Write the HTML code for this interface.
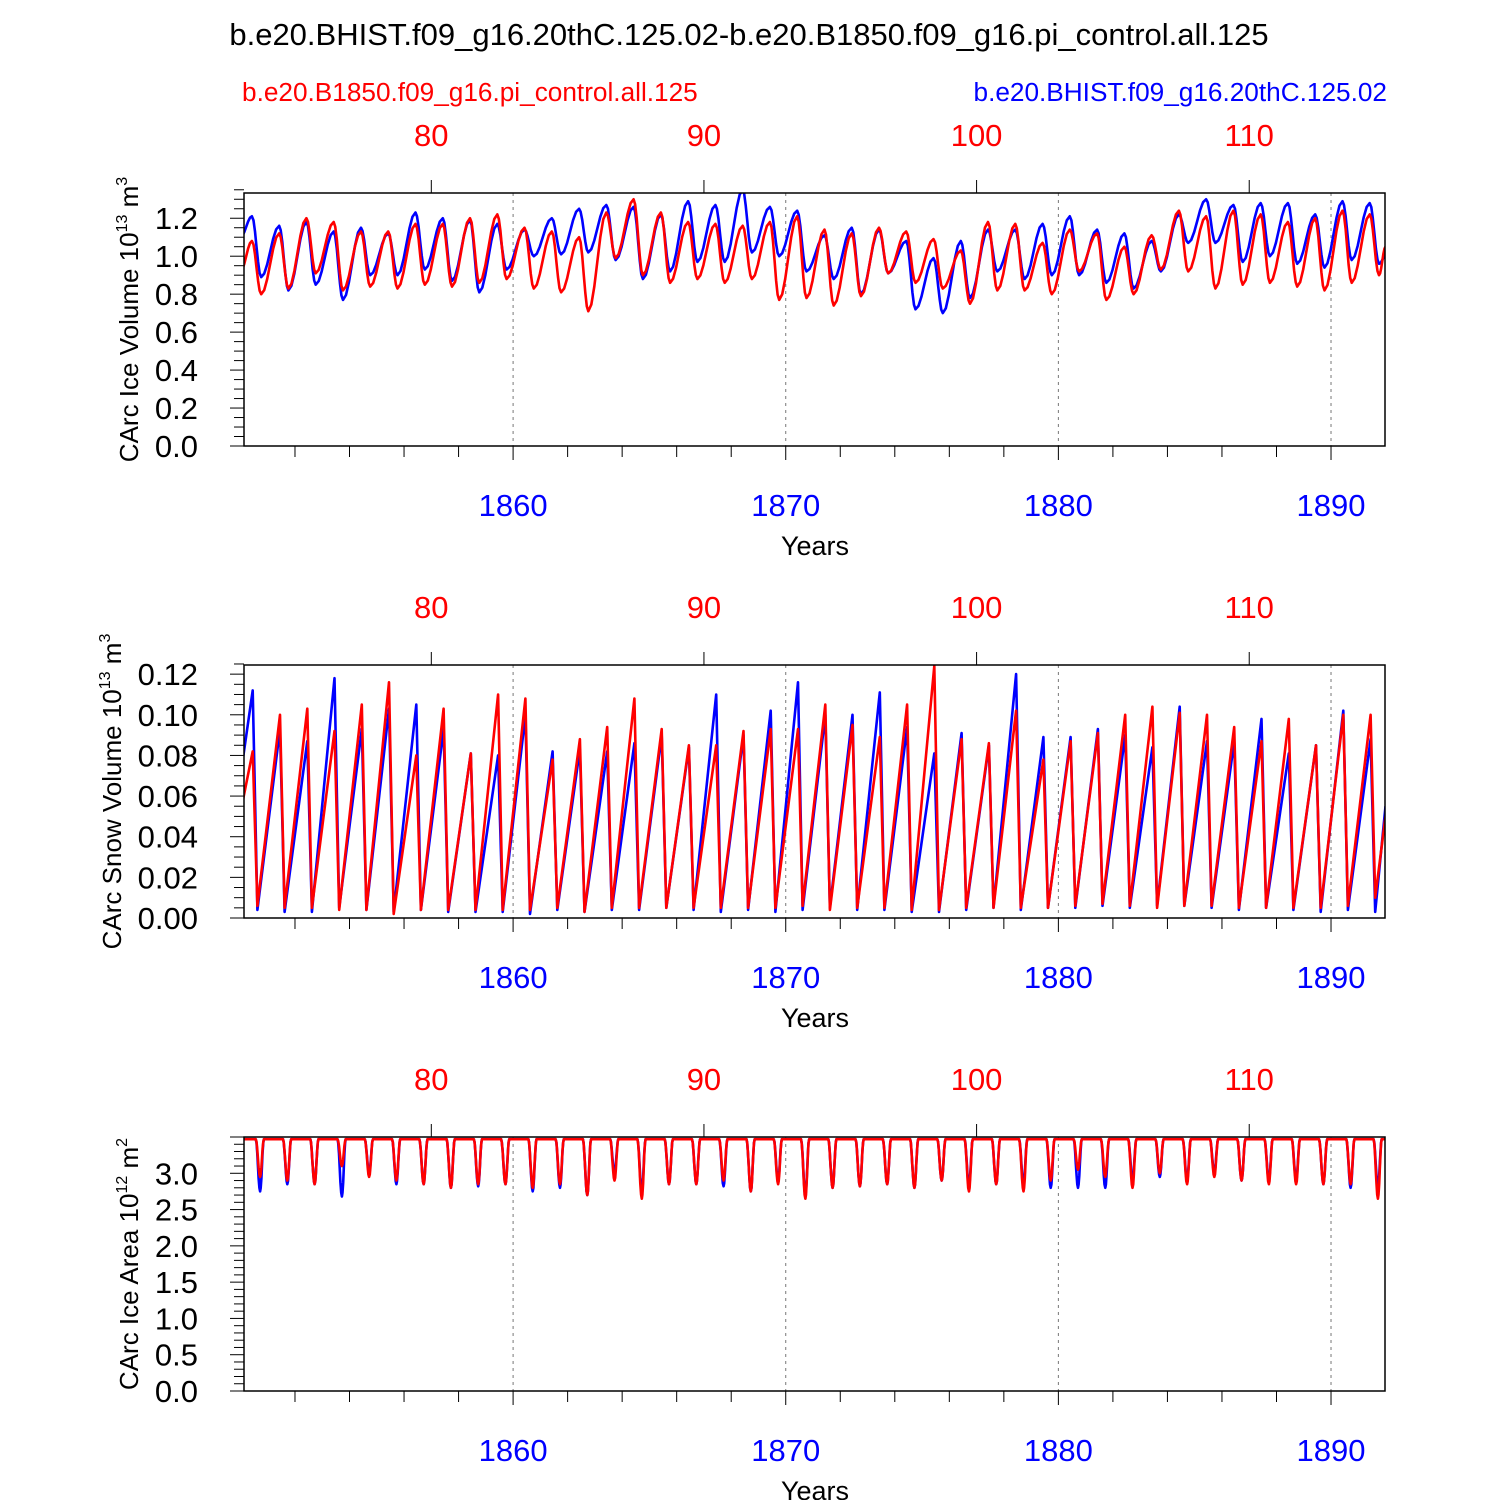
<!DOCTYPE html>
<html><head><meta charset="utf-8"><style>
html,body{margin:0;padding:0;background:#fff;}
svg{display:block;font-family:"Liberation Sans",sans-serif;}
</style></head><body>
<svg id="chart" width="1500" height="1500" viewBox="0 0 1500 1500" xmlns="http://www.w3.org/2000/svg">
<text x="749" y="45" font-size="31" text-anchor="middle">b.e20.BHIST.f09_g16.20thC.125.02-b.e20.B1850.f09_g16.pi_control.all.125</text>
<text x="242" y="101" font-size="26.2" fill="#ff0000">b.e20.B1850.f09_g16.pi_control.all.125</text>
<text x="1387" y="101" font-size="26.2" fill="#0000ff" text-anchor="end">b.e20.BHIST.f09_g16.20thC.125.02</text>
<g id="panels"></g>
</svg>
<script>
// Per-year peak / trough values (years 1850..1891)
const years = [];
for (let y = 1850; y <= 1891; y++) years.push(y);

const iceVolBluePeak = [1.21,1.16,1.18,1.13,1.15,1.12,1.23,1.20,1.19,1.17,1.14,1.20,1.25,1.27,1.26,1.22,1.29,1.27,1.35,1.26,1.24,1.11,1.15,1.14,1.08,0.99,1.08,1.14,1.14,1.17,1.21,1.14,1.12,1.08,1.22,1.30,1.27,1.28,1.28,1.22,1.29,1.28];
const iceVolBlueLow  = [0.89,0.82,0.85,0.77,0.90,0.90,0.93,0.87,0.81,0.93,1.00,1.01,1.02,0.98,0.88,0.92,0.97,0.97,1.02,1.00,0.92,0.88,0.80,0.91,0.72,0.70,0.78,0.92,0.88,0.90,0.90,0.86,0.83,0.92,1.07,1.07,0.97,1.00,0.96,0.94,0.98,0.96];
const iceVolRedPeak  = [1.08,1.12,1.20,1.18,1.13,1.13,1.17,1.17,1.20,1.22,1.15,1.13,1.10,1.23,1.30,1.23,1.18,1.17,1.16,1.18,1.21,1.14,1.12,1.15,1.13,1.09,1.03,1.18,1.17,1.07,1.14,1.12,1.05,1.11,1.24,1.21,1.24,1.22,1.18,1.20,1.24,1.22];
const iceVolRedLow   = [0.80,0.83,0.91,0.82,0.84,0.83,0.85,0.84,0.86,0.88,0.83,0.81,0.71,0.99,0.90,0.86,0.88,0.86,0.88,0.77,0.78,0.74,0.79,0.91,0.86,0.83,0.75,0.82,0.82,0.80,0.92,0.77,0.80,0.93,0.92,0.83,0.85,0.86,0.84,0.82,0.86,0.90];

const snowBluePeak = [.112,.093,.087,.118,.093,.103,.105,.093,.081,.080,.100,.082,.083,.082,.086,.090,.084,.110,.090,.102,.116,.100,.100,.111,.094,.081,.091,.085,.120,.089,.089,.093,.090,.084,.104,.087,.087,.098,.081,.085,.102,.088];
const snowRedPeak  = [.082,.100,.103,.092,.105,.116,.080,.103,.081,.110,.108,.078,.088,.094,.108,.093,.085,.085,.092,.093,.093,.105,.095,.089,.105,.124,.088,.086,.102,.078,.087,.091,.100,.104,.101,.100,.094,.087,.098,.085,.100,.100];
const snowBlueLow = [.004,.003,.003,.005,.004,.003,.004,.003,.003,.003,.002,.004,.003,.004,.004,.005,.004,.003,.004,.003,.004,.005,.004,.004,.003,.003,.004,.005,.004,.005,.005,.006,.005,.006,.006,.005,.004,.005,.004,.003,.004,.003];
const snowRedLow  = [.006,.005,.005,.004,.004,.002,.004,.004,.004,.004,.004,.005,.003,.005,.005,.005,.005,.005,.005,.005,.006,.004,.005,.005,.004,.004,.005,.005,.005,.005,.006,.007,.006,.005,.006,.006,.005,.005,.005,.005,.006,.010];

const areaBlueLow = [2.75,2.85,2.85,2.68,3.00,2.85,2.85,2.80,2.82,2.85,2.75,2.80,2.70,3.00,2.75,2.85,2.85,2.82,2.75,2.90,2.70,2.80,2.82,2.85,2.80,2.90,2.82,2.85,2.85,2.80,2.80,2.80,2.90,2.95,2.90,3.00,2.90,2.90,2.90,2.85,2.80,2.80];
const areaRedLow  = [2.95,2.90,2.85,3.10,2.95,2.90,2.85,2.80,2.85,2.85,2.80,2.85,2.70,2.90,2.65,2.85,2.85,2.90,2.75,2.85,2.65,2.80,2.82,2.85,2.80,2.90,2.75,2.85,2.75,2.90,3.05,2.95,2.80,3.00,2.85,2.95,2.90,2.85,2.85,2.85,2.85,2.65];
const areaMax = 3.47;

const bottomTicks = [1860,1870,1880,1890];
const topTicks = [80,90,100,110];
const topOffset = 1777;

const X0=244, X1=1385, T0=1850.13, T1=1891.98;
const xs = t => X0 + (t - T0) / (T1 - T0) * (X1 - X0);
const NS="http://www.w3.org/2000/svg";
const root=document.getElementById('panels');
function mk(tag, attrs, parent){const e=document.createElementNS(NS,tag);for(const k in attrs)e.setAttribute(k,attrs[k]);(parent||root).appendChild(e);return e;}

function seriesIce(peak, low, start, end){
  const pts=[[1850.0,start]];
  years.forEach((y,i)=>{pts.push([y+0.42,peak[i]]);pts.push([y+0.76,low[i]]);});
  pts.push([1892.0,end]);return pts;
}
function seriesSnow(peak, low, start, end){
  const pts=[[1850.0,start]];
  years.forEach((y,i)=>{pts.push([y+0.45,peak[i]]);pts.push([y+0.62,low[i]]);});
  pts.push([1892.0,end]);return pts;
}
function seriesArea(low){
  const pts=[[1850.0,areaMax]];
  years.forEach((y,i)=>{pts.push([y+0.56,areaMax]);pts.push([y+0.72,low[i]]);pts.push([y+0.86,areaMax]);});
  pts.push([1892.0,areaMax]);return pts;
}
function smooth(pts, ease){
  if(!ease) return pts;
  const out=[pts[0]];
  for(let i=1;i<pts.length;i++){
    const a=pts[i-1], b=pts[i];
    for(let k=1;k<=6;k++){const f=k/6;const e=(1-Math.cos(Math.PI*f))/2;out.push([a[0]+(b[0]-a[0])*f,a[1]+(b[1]-a[1])*e]);}
  }
  return out;
}

const panels=[
  {name:'ice-volume',top:193,bot:446,ymax:1.333,major:0.2,minor:0.05,dec:1,title:'CArc Ice Volume 10',sup:'13',unit:' m',usup:'3',tx:138,ease:true,
   series:[['blue',seriesIce(iceVolBluePeak,iceVolBlueLow,1.10,1.00),'#0000ff'],['red',seriesIce(iceVolRedPeak,iceVolRedLow,0.92,1.05),'#ff0000']]},
  {name:'snow-volume',top:665,bot:918,ymax:0.1245,major:0.02,minor:0.005,dec:2,title:'CArc Snow Volume 10',sup:'13',unit:' m',usup:'3',tx:121,ease:false,
   series:[['blue',seriesSnow(snowBluePeak,snowBlueLow,0.070,0.055),'#0000ff'],['red',seriesSnow(snowRedPeak,snowRedLow,0.052,0.050),'#ff0000']]},
  {name:'ice-area',top:1137,bot:1391,ymax:3.5,major:0.5,minor:0.1,dec:1,title:'CArc Ice Area 10',sup:'12',unit:' m',usup:'2',tx:138,ease:true,skipTop:true,
   series:[['blue',seriesArea(areaBlueLow),'#0000ff'],['red',seriesArea(areaRedLow),'#ff0000']]}
];

panels.forEach((p,pi)=>{
  const g=mk('g',{});
  
  
  const ys=v=>p.bot-v/p.ymax*(p.bot-p.top);
  const cid='clip'+pi;
  const cp=mk('clipPath',{id:cid},g);mk('rect',{x:X0,y:p.top,width:X1-X0,height:p.bot-p.top},cp);
  bottomTicks.forEach(t=>{const l=mk('line',{x1:xs(t),x2:xs(t),y1:p.top,y2:p.bot,stroke:'#777','stroke-width':1,'stroke-dasharray':'3,4'},g);
    });
  p.series.forEach(s=>{
    const pts=smooth(s[1],p.ease);
    const d=pts.map((pt,i)=>(i?'L':'M')+xs(pt[0]).toFixed(1)+','+ys(pt[1]).toFixed(1)).join('');
    const path=mk('path',{d:d,fill:'none',stroke:s[2],'stroke-width':2.6,'stroke-linejoin':'round','clip-path':'url(#'+cid+')'},g);
    
    
  });
  const fr=mk('rect',{x:X0,y:p.top,width:X1-X0,height:p.bot-p.top,fill:'none',stroke:'#000','stroke-width':1.5},g);
  
  const nMin=Math.round(p.ymax/p.minor+1e-6);
  for(let k=0;k<=nMin;k++){const v=k*p.minor;const isMaj=Math.abs(v/p.major-Math.round(v/p.major))<1e-6;
    mk('line',{x1:X0-(isMaj?14:10),x2:X0,y1:ys(v),y2:ys(v),stroke:'#000','stroke-width':1},g);
    if(isMaj && !(p.skipTop && k===nMin)){const t=mk('text',{x:198,y:ys(v)+11,'font-size':31,'text-anchor':'end'},g);t.textContent=v.toFixed(p.dec);
      }
  }
  const yt=mk('text',{transform:`translate(${p.tx},${(p.top+p.bot)/2}) rotate(-90)`,'font-size':26,'text-anchor':'middle'},g);
  
  yt.innerHTML=p.title+'<tspan dy="-11" font-size="16">'+p.sup+'</tspan><tspan dy="11">'+p.unit+'</tspan><tspan dy="-11" font-size="16">'+p.usup+'</tspan>';
  for(let yr=1852;yr<=1890;yr+=2){const maj=yr%10===0;mk('line',{x1:xs(yr),x2:xs(yr),y1:p.bot,y2:p.bot+(maj?14:11),stroke:'#000','stroke-width':1},g);}
  bottomTicks.forEach(t=>{const l=mk('text',{x:xs(t),y:p.bot+70,'font-size':31,'text-anchor':'middle',fill:'#0000ff'},g);l.textContent=t;
    });
  const xt=mk('text',{x:815,y:p.bot+109,'font-size':27,'text-anchor':'middle'},g);xt.textContent='Years';
  
  topTicks.forEach(t=>{const x=xs(t+topOffset);mk('line',{x1:x,x2:x,y1:p.top-13,y2:p.top,stroke:'#000','stroke-width':1},g);
    const l=mk('text',{x:x,y:p.top-47,'font-size':31,'text-anchor':'middle',fill:'#ff0000'},g);l.textContent=t;
    });
});
</script>
</body></html>
